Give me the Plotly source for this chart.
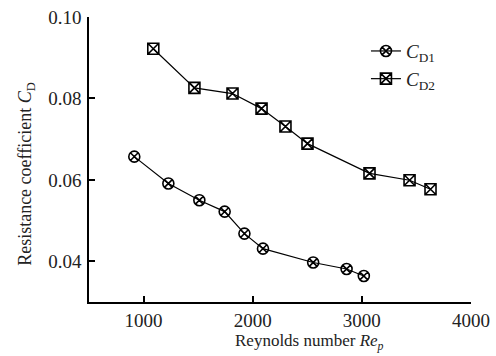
import plotly.graph_objects as go

re_d1 = [915, 1227, 1511, 1743, 1924, 2094, 2554, 2860, 3018]
cd1 = [0.0657, 0.0591, 0.0550, 0.0522, 0.0468, 0.0431, 0.0397, 0.0381, 0.0364]
re_d2 = [1089, 1466, 1815, 2081, 2300, 2502, 3070, 3437, 3629]
cd2 = [0.0922, 0.0826, 0.0812, 0.0775, 0.0731, 0.0689, 0.0616, 0.0599, 0.0577]
x_ticks = [1000, 2000, 3000, 4000]
y_ticks = [0.04, 0.06, 0.08, 0.10]

font = "Liberation Serif"
ink = "#222"

fig = go.Figure()
fig.add_trace(go.Scatter(
    x=re_d1, y=cd1, mode="lines+markers", name="<i>C</i><sub>D1</sub>",
    line=dict(color="black", width=1.2),
    marker=dict(symbol="circle-x-open", size=11, color="black", line=dict(width=1.6)),
))
fig.add_trace(go.Scatter(
    x=re_d2, y=cd2, mode="lines+markers", name="<i>C</i><sub>D2</sub>",
    line=dict(color="black", width=1.2),
    marker=dict(symbol="square-x-open", size=11, color="black", line=dict(width=1.6)),
))

fig.update_layout(
    width=496, height=356,
    margin=dict(l=89, r=25, t=17, b=54, autoexpand=False),
    paper_bgcolor="white", plot_bgcolor="white",
    font=dict(family=font, size=19, color=ink),
    showlegend=True,
    legend=dict(x=0.725, y=0.947, xanchor="left", yanchor="top",
                bgcolor="rgba(0,0,0,0)", font=dict(family=font, size=19), tracegroupgap=0),
    xaxis=dict(
        range=[500, 4000], tickvals=x_ticks, ticktext=[str(v) for v in x_ticks],
        showline=True, linecolor="black", linewidth=1.5, showgrid=False, zeroline=False,
        ticks="inside", ticklen=6, tickwidth=1.5, tickcolor="black",
        ticklabelstandoff=0, automargin=False,
        tickfont=dict(family=font, size=19, color=ink),
    ),
    yaxis=dict(
        range=[0.030, 0.100], tickvals=y_ticks, ticktext=["0.04", "0.06", "0.08", "0.10"],
        showline=True, linecolor="black", linewidth=1.5, showgrid=False, zeroline=False,
        ticks="inside", ticklen=6, tickwidth=1.5, tickcolor="black",
        ticklabelstandoff=2, automargin=False,
        tickfont=dict(family=font, size=19, color=ink),
    ),
    annotations=[
        dict(text="Reynolds number <i>Re<sub>p</sub></i>", xref="paper", yref="paper",
             x=0.576, y=-0.14, xanchor="center", yanchor="middle", showarrow=False,
             font=dict(family=font, size=17, color=ink)),
        dict(text="Resistance coefficient <i>C</i><sub>D</sub>", xref="paper", yref="paper",
             x=-0.162, y=0.45, xanchor="center", yanchor="middle", showarrow=False,
             textangle=-90, font=dict(family=font, size=18, color=ink)),
    ],
)

fig.write_html("out.html", post_script="document.body.style.margin='0';",
               config={"displayModeBar": False})
